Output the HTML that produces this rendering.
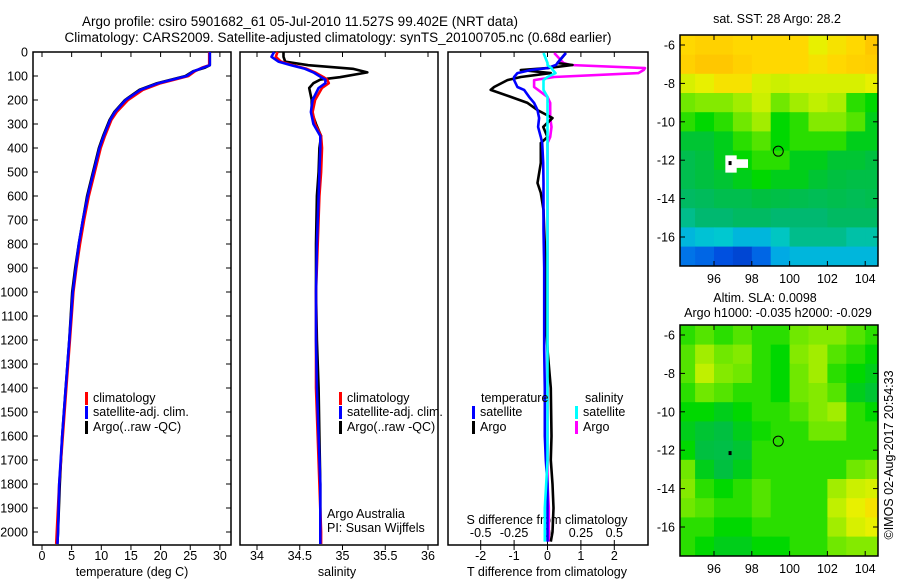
<!DOCTYPE html>
<html><head><meta charset="utf-8"><style>
body{margin:0;background:#fff;}
svg{display:block;font-family:"Liberation Sans",sans-serif;font-size:12.5px;}
</style></head><body>
<svg id="c" width="900" height="580" viewBox="0 0 900 580">
<text x="300" y="26" text-anchor="middle" font-size="13.5">Argo profile: csiro 5901682_61 05-Jul-2010 11.527S 99.402E (NRT data)</text>
<text x="338" y="42" text-anchor="middle" font-size="13.5">Climatology: CARS2009. Satellite-adjusted climatology: synTS_20100705.nc (0.68d earlier)</text>
<text x="777" y="23" text-anchor="middle">sat. SST: 28 Argo: 28.2</text>
<text x="765" y="302" text-anchor="middle">Altim. SLA: 0.0098</text>
<text x="778" y="317" text-anchor="middle">Argo h1000: -0.035 h2000: -0.029</text>
<text transform="translate(893,455) rotate(-90)" text-anchor="middle">©IMOS 02-Aug-2017 20:54:33</text>
<g id="plots"></g>
</svg>
<script>
// depth grid shared
const depthT=[0,55,65,80,100,130,158,200,250,283,350,400,500,600,700,800,900,1000,1200,1400,1600,1800,2000,2050];
const tempClim=[28.2,28.2,27,25.8,24.7,20,17,14.5,12.6,11.7,10.6,9.9,8.9,7.9,7.1,6.4,5.8,5.3,4.7,4.1,3.5,2.9,2.5,2.4];
const tempSat=[28.3,28.3,27.2,25.6,24.4,19.6,16.6,14.1,12.3,11.5,10.4,9.7,8.7,7.7,6.9,6.2,5.7,5.2,4.6,4.0,3.4,2.9,2.7,2.6];
const tempArgo=[28.3,28.3,27.5,25.5,24.2,19.4,16.4,14.0,12.2,11.4,10.3,9.6,8.6,7.6,6.9,6.2,5.6,5.1,4.6,4.0,3.4,3.0,2.7,2.6];
const depthS=[0,20,40,55,70,85,105,115,130,150,200,250,300,350,400,500,600,800,1000,1200,1400,1600,1800,2000,2050];
const salClim=[34.24,34.22,34.28,34.42,34.58,34.68,34.78,34.82,34.84,34.76,34.68,34.65,34.68,34.75,34.76,34.75,34.73,34.71,34.69,34.69,34.69,34.71,34.73,34.75,34.75];
const salSat=[34.2,34.17,34.25,34.4,34.56,34.66,34.75,34.8,34.8,34.72,34.65,34.63,34.66,34.74,34.74,34.73,34.72,34.7,34.69,34.69,34.7,34.72,34.74,34.74,34.74];
const salArgo=[34.31,34.31,34.33,34.6,35.12,35.29,34.97,34.74,34.66,34.61,34.64,34.64,34.69,34.75,34.73,34.72,34.70,34.69,34.69,34.70,34.72,34.73,34.74,34.74,34.74];
const depthD=[4,46,54,67,75,88,104,117,146,158,187,212,242,275,312,354,379,462,546,587,658,742,900,1100,1240,1400,1600,1700,1800,1900,2000,2040];
const tdSat=[0.55,0.3,0.25,0.0,-0.5,-0.9,-1.0,-1.0,-0.9,-0.7,-0.55,-0.4,-0.3,-0.25,-0.28,-0.2,-0.16,-0.13,-0.12,-0.12,-0.12,-0.12,-0.1,-0.1,-0.1,-0.08,-0.08,-0.05,0.0,0.0,0.0,0.0];
const tdArgo=[0.55,0.3,0.75,0.0,-0.8,0.1,-0.8,-1.2,-1.6,-1.7,-1.1,-0.6,-0.3,0.15,-0.13,-0.0,-0.2,-0.2,-0.3,-0.2,-0.12,-0.1,-0.05,-0.05,0.0,0.1,0.12,0.1,0.15,0.18,0.15,0.1];
const sdSat=[-0.03,0.0,0.0,0.03,0.04,0.06,0.0,-0.03,-0.03,-0.03,0.0,0.0,0.0,0.0,0.0,0.0,0.0,0.0,0.0,0.0,0.0,0.0,0.0,0.0,0.0,0.0,0.0,0.0,-0.01,-0.02,-0.02,-0.02];
const sdArgo=[0.05,0.12,0.17,0.73,0.72,0.68,0.05,-0.1,-0.1,-0.07,0.0,0.02,0.02,0.02,0.03,0.02,0.0,0.0,0.0,0.0,0.0,0.0,0.0,0.0,0.0,0.0,0.0,0.0,0.0,0.01,0.01,0.01];
const depthTicks=[0,100,200,300,400,500,600,700,800,900,1000,1100,1200,1300,1400,1500,1600,1700,1800,1900,2000];
const tempTicks=[0,5,10,15,20,25,30];
const salTicks=[34,34.5,35,35.5,36];
const tdTicks=[-2,-1,0,1,2];
const sdTicks=[-0.5,-0.25,0,0.25,0.5];
const lonTicks=[96,98,100,102,104];
const latTicks=[-6,-8,-10,-12,-14,-16];
// maps: rows lat -5.5 downward 1deg, cols lon 94..105
const sstGrid=[
[.80,.82,.82,.80,.80,.80,.80,.75,.78,.80,.85],
[.82,.85,.85,.82,.80,.80,.80,.78,.80,.82,.83],
[.72,.75,.78,.78,.72,.70,.72,.72,.72,.72,.75],
[.60,.62,.62,.65,.70,.60,.65,.68,.66,.55,.52],
[.55,.52,.55,.60,.65,.52,.55,.62,.62,.58,.50],
[.48,.48,.50,.55,.58,.52,.55,.55,.55,.50,.50],
[.45,.47,.50,.52,.55,.55,.50,.50,.48,.48,.47],
[.45,.47,.48,.50,.52,.50,.50,.48,.47,.46,.46],
[.42,.43,.45,.45,.47,.46,.45,.44,.45,.44,.45],
[.38,.40,.40,.42,.42,.40,.40,.40,.42,.42,.42],
[.30,.32,.33,.30,.30,.34,.38,.38,.38,.36,.36],
[.20,.18,.15,.12,.18,.28,.30,.30,.30,.30,.30]];
const slaGrid=[
[.55,.58,.55,.58,.55,.55,.60,.62,.62,.58,.55],
[.58,.65,.60,.62,.55,.52,.62,.65,.58,.55,.52],
[.58,.68,.62,.60,.55,.52,.60,.65,.55,.52,.50],
[.55,.60,.58,.55,.55,.52,.60,.62,.58,.50,.48],
[.52,.52,.50,.52,.55,.55,.58,.62,.65,.55,.52],
[.50,.48,.47,.50,.53,.55,.55,.60,.60,.55,.55],
[.52,.47,.46,.48,.55,.55,.55,.55,.55,.55,.55],
[.60,.50,.47,.50,.55,.55,.55,.55,.55,.60,.62],
[.62,.55,.52,.55,.58,.55,.55,.55,.65,.70,.72],
[.60,.58,.55,.55,.58,.55,.55,.55,.68,.75,.78],
[.55,.55,.52,.52,.55,.55,.55,.55,.65,.72,.75],
[.55,.52,.50,.50,.52,.52,.55,.55,.60,.62,.62]];
const floatPos=[99.4,-11.53];

const NS='http://www.w3.org/2000/svg';
const root=document.getElementById('plots');
function mk(tag,attrs,parent){const e=document.createElementNS(NS,tag);for(const k in attrs)e.setAttribute(k,attrs[k]);(parent||root).appendChild(e);return e;}
const yD=d=>52+d*0.24;
const PT={l:33,r:231}, PS={l:240,r:438}, PD={l:448,r:648}, TOP=52, BOT=545;
const xT=t=>42+t*5.93, xS=s=>257+(s-34)*85.5, xTD=v=>547.5+v*33.4, xSD=v=>547.5+v*133.6;

function frame(p,name){const r=mk('rect',{x:p.l,y:TOP,width:p.r-p.l,height:BOT-TOP,fill:'none',stroke:'#000','stroke-width':1.5});

}
frame(PT,'temperature-panel-frame');frame(PS,'salinity-panel-frame');frame(PD,'difference-panel-frame');
// depth ticks
depthTicks.forEach(d=>{
 const t=mk('text',{x:28,y:yD(d)+4.5,'text-anchor':'end'});t.textContent=d;
 
 
 mk('line',{x1:PT.l,x2:PT.l+5,y1:yD(d),y2:yD(d),stroke:'#000'});
 mk('line',{x1:PT.r,x2:PT.r-5,y1:yD(d),y2:yD(d),stroke:'#000'});
});
function xticks(ticks,fx,name,y){ticks.forEach(v=>{const x=fx(v);
 mk('line',{x1:x,x2:x,y1:BOT,y2:BOT+5,stroke:'#000'});
 mk('line',{x1:x,x2:x,y1:TOP,y2:TOP+5,stroke:'#000'});
 const t=mk('text',{x:x,y:y,'text-anchor':'middle'});t.textContent=v;
 
 });}
xticks(tempTicks,xT,'temperature-tick-label',560);
xticks(salTicks,xS,'salinity-tick-label',560);
xticks(tdTicks,xTD,'t-diff-tick-label',560);
sdTicks.forEach(v=>{const x=xSD(v);mk('line',{x1:x,x2:x,y1:BOT,y2:BOT-5,stroke:'#000'});
 const t=mk('text',{x:x,y:537,'text-anchor':'middle'});t.textContent=v;
 
 });
function lbl(txt,x,y,name,anchor){const t=mk('text',{x:x,y:y,'text-anchor':anchor||'middle'});t.textContent=txt;
 
 return t;}
lbl('temperature (deg C)',132,576,'temperature-axis-title');
lbl('salinity',337,576,'salinity-axis-title');
lbl('T difference from climatology',547,576,'t-diff-axis-title');
lbl('S difference from climatology',547,524,'s-diff-axis-title');
lbl('Argo Australia',327,518,'credit-argo-australia','start');
lbl('PI: Susan Wijffels',327,532,'credit-pi','start');

function series(vals,depths,fx,color,name){
 const pts=vals.map((v,i)=>fx(v).toFixed(1)+','+yD(depths[i]).toFixed(1)).join(' ');
 const p=mk('polyline',{points:pts,fill:'none',stroke:color,'stroke-width':2.6,'stroke-linejoin':'round'});
 
 }
series(tempArgo,depthT,xT,'#000','temp-argo-line');
series(tempClim,depthT,xT,'#f00','temp-clim-line');
series(tempSat,depthT,xT,'#00f','temp-sat-line');
series(salArgo,depthS,xS,'#000','sal-argo-line');
series(salClim,depthS,xS,'#f00','sal-clim-line');
series(salSat,depthS,xS,'#00f','sal-sat-line');
series(sdArgo,depthD,xSD,'#f0f','s-diff-argo-line');
series(tdArgo,depthD,xTD,'#000','t-diff-argo-line');
series(tdSat,depthD,xTD,'#00f','t-diff-sat-line');
series(sdSat,depthD,xSD,'#0ff','s-diff-sat-line');

function leg(x,y,color,txt,name){mk('rect',{x:x,y:y-10,width:3,height:13,fill:color});
 const t=lbl(txt,x+8,y,name,'start');}
[[PT,85],[PS,339]].forEach(([p,x],k)=>{
 leg(x,402,'#f00','climatology','legend-climatology');
 leg(x,416,'#00f','satellite-adj. clim.','legend-satellite-adj');
 leg(x,431,'#000','Argo(..raw -QC)','legend-argo');});
lbl('temperature',481,402,'legend-temperature-heading','start');
lbl('salinity',585,402,'legend-salinity-heading','start');
leg(472,416,'#00f','satellite','legend-t-satellite');
leg(472,431,'#000','Argo','legend-t-argo');
leg(575,416,'#0ff','satellite','legend-s-satellite');
leg(575,431,'#f0f','Argo','legend-s-argo');

// colormap
const stops=[[0,[0,32,160]],[0.15,[0,80,224]],[0.25,[0,152,240]],[0.33,[0,200,208]],[0.4,[0,184,112]],[0.47,[0,192,64]],[0.52,[0,216,0]],[0.6,[112,232,0]],[0.68,[192,240,0]],[0.75,[232,240,0]],[0.8,[255,216,0]],[0.87,[255,192,0]],[1,[255,150,0]]];
function cmap(v){for(let i=1;i<stops.length;i++){if(v<=stops[i][0]){const a=stops[i-1],b=stops[i],f=(v-a[0])/(b[0]-a[0]);
 return 'rgb('+a[1].map((c,j)=>Math.round(c+(b[1][j]-c)*f)).join(',')+')';}}return 'rgb(255,150,0)';}
function map(grid,top,name){
 const L=680,R=878,B=top+231;
 const fx=lon=>714+(lon-96)*18.9, fy=lat=>top+10+(-6-lat)*19.2;
 const g=mk('g',{});
 const cp=mk('clipPath',{id:name+'-clip'},g);mk('rect',{x:L,y:top,width:R-L,height:B-top},cp);
 const cells=mk('g',{'clip-path':'url(#'+name+'-clip)'},g);
 grid.forEach((row,r)=>row.forEach((v,c)=>{
  const x0=fx(94+c),y0=fy(-5.5-r);
  const cell=mk('rect',{x:x0.toFixed(1),y:y0.toFixed(1),width:19.5,height:19.8,fill:cmap(v)},cells);
  
  
 }));
 mk('rect',{x:L,y:top,width:R-L,height:B-top,fill:'none',stroke:'#000','stroke-width':1.5},g);
 lonTicks.forEach(v=>{const x=fx(v);mk('line',{x1:x,x2:x,y1:B,y2:B-5,stroke:'#000'},g);mk('line',{x1:x,x2:x,y1:top,y2:top+5,stroke:'#000'},g);
  const t=mk('text',{x:x,y:B+17,'text-anchor':'middle'},g);t.textContent=v;
  
  });
 latTicks.forEach(v=>{const y=fy(v);mk('line',{x1:L,x2:L+5,y1:y,y2:y,stroke:'#000'},g);mk('line',{x1:R,x2:R-5,y1:y,y2:y,stroke:'#000'},g);
  const t=mk('text',{x:675,y:y+4.5,'text-anchor':'end'},g);t.textContent=v;
  
  });
 const m=mk('circle',{cx:fx(floatPos[0]),cy:fy(floatPos[1]),r:5,fill:'none',stroke:'#000'},g);
 
 
 mk('rect',{x:fx(96.85)-1.5,y:fy(-12.15)-2,width:3,height:4,fill:'#000'},g);
 return {g,fx,fy};
}
const m1=map(sstGrid,35,'sst-map');
mk('path',{d:'M'+m1.fx(96.6)+','+m1.fy(-11.75)+'H'+m1.fx(97.2)+'V'+m1.fy(-11.95)+'H'+m1.fx(97.8)+'V'+m1.fy(-12.4)+'H'+m1.fx(97.2)+'V'+m1.fy(-12.65)+'H'+m1.fx(96.6)+'Z',fill:'#fff'},m1.g);
mk('rect',{x:m1.fx(96.85)-1.5,y:m1.fy(-12.15)-2,width:3,height:4,fill:'#000'},m1.g);
map(slaGrid,325,'sla-map');
</script>
</body></html>
